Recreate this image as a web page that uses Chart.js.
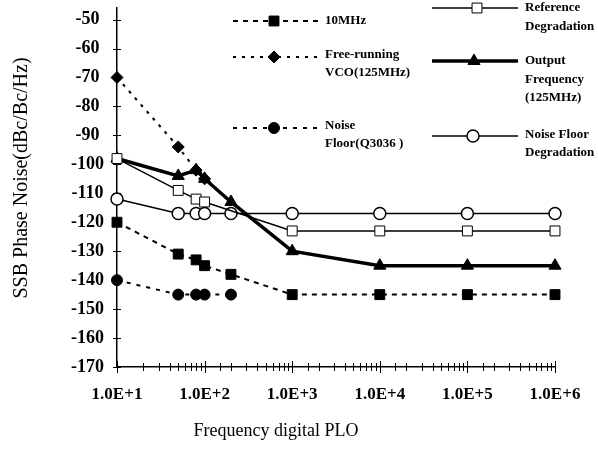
<!DOCTYPE html>
<html>
<head>
<meta charset="utf-8">
<script src="https://cdn.jsdelivr.net/npm/chart.js@4.4.1/dist/chart.umd.min.js"></script>
<style>
html, body { margin: 0; padding: 0; background: #fff; }
</style>
</head>
<body>
<canvas id="noiseChart" width="598" height="458"></canvas>
<script>
// frequency offsets (Hz)
const freqs = [10, 50, 80, 100, 200, 1000, 10000, 100000, 1000000];
const vcoFreqs = [10, 50, 80, 100];
const floorFreqs = [10, 50, 80, 100, 200];
const refFreqs = [10, 50, 80, 100, 1000, 10000, 100000, 1000000];

// phase noise values (dBc/Hz)
const tenMHz = [-120, -131, -133, -135, -138, -145, -145, -145, -145];
const vcoFree = [-70, -94, -102, -105];
const noiseFloor = [-140, -145, -145, -145, -145];
const outputFreq = [-98, -104, -102, -105, -113, -130, -135, -135, -135];
const refDegradation = [-98, -109, -112, -113, -123, -123, -123, -123];
const floorDegradation = [-112, -117, -117, -117, -117, -117, -117, -117, -117];

const xTickLabels = ['1.0E+1', '1.0E+2', '1.0E+3', '1.0E+4', '1.0E+5', '1.0E+6'];
const yTickValues = [-170, -160, -150, -140, -130, -120, -110, -100, -90, -80, -70, -60, -50];
const yTitle = 'SSB Phase Noise(dBc/Bc/Hz)';
const xTitle = 'Frequency digital PLO';

const SERIF = '"Liberation Serif", "Times New Roman", serif';

function pts(xs, ys) {
    return xs.map((x, i) => ({ x: x, y: ys[i] }));
}

// where each legend entry sits inside the plot
const legendSlots = [
    { ds: 0, x0: 233, x1: 318, mx: 274, y: 21, tx: 325, lines: ['10MHz'], ly: [21] },
    { ds: 1, x0: 233, x1: 318, mx: 274, y: 57, tx: 325, lines: ['Free-running', 'VCO(125MHz)'], ly: [55, 73] },
    { ds: 2, x0: 233, x1: 318, mx: 274, y: 128, tx: 325, lines: ['Noise', 'Floor(Q3036 )'], ly: [126, 144] },
    { ds: 3, x0: 432, x1: 518, mx: 477, y: 8, tx: 525, lines: ['Reference', 'Degradation'], ly: [8, 27] },
    { ds: 4, x0: 432, x1: 518, mx: 474, y: 61, tx: 525, lines: ['Output', 'Frequency', '(125MHz)'], ly: [61, 80, 98] },
    { ds: 5, x0: 432, x1: 518, mx: 473, y: 136, tx: 525, lines: ['Noise Floor', 'Degradation'], ly: [135, 153] }
];

const paperLegend = {
    id: 'paperLegend',
    afterDraw(chart) {
        const ctx = chart.ctx;
        legendSlots.forEach(slot => {
            const ds = chart.data.datasets[slot.ds];
            ctx.save();
            ctx.strokeStyle = ds.borderColor;
            ctx.lineWidth = ds.borderWidth;
            ctx.setLineDash(ds.borderDash || []);
            ctx.beginPath();
            ctx.moveTo(slot.x0, slot.y);
            ctx.lineTo(slot.x1, slot.y);
            ctx.stroke();
            ctx.setLineDash([]);
            ctx.fillStyle = ds.pointBackgroundColor;
            ctx.strokeStyle = ds.pointBorderColor;
            ctx.lineWidth = ds.pointBorderWidth;
            Chart.helpers.drawPoint(ctx, {
                pointStyle: ds.pointStyle,
                radius: ds.pointRadius,
                borderWidth: ds.pointBorderWidth,
                rotation: 0
            }, slot.mx, slot.y);
            ctx.fillStyle = '#000';
            ctx.font = 'bold 13px ' + SERIF;
            ctx.textAlign = 'left';
            ctx.textBaseline = 'middle';
            slot.lines.forEach((t, i) => ctx.fillText(t, slot.tx, slot.ly[i]));
            ctx.restore();
        });
    }
};

// small tick marks that cross the axes, and the two axis titles
const paperAxes = {
    id: 'paperAxes',
    afterDraw(chart) {
        const ctx = chart.ctx;
        const area = chart.chartArea;
        const xs = chart.scales.x;
        const ys = chart.scales.y;
        ctx.save();
        ctx.strokeStyle = '#000';
        ctx.lineWidth = 1;
        ctx.beginPath();
        ys.ticks.forEach(t => {
            const py = Math.round(ys.getPixelForValue(t.value)) + 0.5;
            ctx.moveTo(area.left - 4, py);
            ctx.lineTo(area.left + 4, py);
        });
        xs.ticks.forEach(t => {
            const px = Math.round(xs.getPixelForValue(t.value)) + 0.5;
            const len = t.major ? 6 : 4;
            ctx.moveTo(px, area.bottom - len);
            ctx.lineTo(px, area.bottom + len);
        });
        ctx.stroke();

        ctx.fillStyle = '#000';
        ctx.font = '18px ' + SERIF;
        ctx.textAlign = 'center';
        ctx.textBaseline = 'middle';
        ctx.fillText(xTitle, 276, 431);
        ctx.translate(22, 178);
        ctx.rotate(-Math.PI / 2);
        ctx.font = '20px ' + SERIF;
        ctx.fillText(yTitle, 0, 0);
        ctx.restore();
    }
};

document.addEventListener('DOMContentLoaded', () => {
    const datasets = [
        {
            label: '10MHz',
            data: pts(freqs, tenMHz),
            borderColor: '#000', borderWidth: 2, borderDash: [5, 5],
            pointStyle: 'rect', pointRadius: 7,
            pointBackgroundColor: '#000', pointBorderColor: '#000', pointBorderWidth: 1
        },
        {
            label: 'Free-running VCO(125MHz)',
            data: pts(vcoFreqs, vcoFree),
            borderColor: '#000', borderWidth: 2, borderDash: [3, 6],
            pointStyle: 'rectRot', pointRadius: 6,
            pointBackgroundColor: '#000', pointBorderColor: '#000', pointBorderWidth: 1
        },
        {
            label: 'Noise Floor(Q3036 )',
            data: pts(floorFreqs, noiseFloor),
            borderColor: '#000', borderWidth: 2, borderDash: [4, 6],
            pointStyle: 'circle', pointRadius: 5.5,
            pointBackgroundColor: '#000', pointBorderColor: '#000', pointBorderWidth: 1
        },
        {
            label: 'Reference Degradation',
            data: pts(refFreqs, refDegradation),
            borderColor: '#000', borderWidth: 1.5,
            pointStyle: 'rect', pointRadius: 7,
            pointBackgroundColor: '#fff', pointBorderColor: '#000', pointBorderWidth: 1
        },
        {
            label: 'Output Frequency (125MHz)',
            data: pts(freqs, outputFreq),
            borderColor: '#000', borderWidth: 3.5,
            pointStyle: 'triangle', pointRadius: 7,
            pointBackgroundColor: '#000', pointBorderColor: '#000', pointBorderWidth: 1
        },
        {
            label: 'Noise Floor Degradation',
            data: pts(freqs, floorDegradation),
            borderColor: '#000', borderWidth: 1.5,
            pointStyle: 'circle', pointRadius: 6,
            pointBackgroundColor: '#fff', pointBorderColor: '#000', pointBorderWidth: 1.5
        }
    ];
    datasets.forEach(d => { d.tension = 0; d.clip = false; d.fill = false; });

    new Chart(document.getElementById('noiseChart'), {
        type: 'line',
        data: { datasets: datasets },
        options: {
            responsive: false,
            animation: false,
            layout: { padding: { top: 0, right: 43, left: 0, bottom: 0 } },
            plugins: {
                legend: { display: false },
                tooltip: { enabled: false }
            },
            scales: {
                x: {
                    type: 'logarithmic',
                    min: 10,
                    max: 1000000,
                    grid: { display: true, drawOnChartArea: false, drawTicks: false, color: 'rgba(0,0,0,0)' },
                    border: { display: true, color: '#000', width: 1.5 },
                    ticks: {
                        autoSkip: false,
                        maxRotation: 0,
                        padding: 17,
                        color: '#000',
                        font: { family: SERIF, size: 17, weight: 'bold' },
                        callback: function (value) {
                            const e = Math.log10(value);
                            if (Math.abs(e - Math.round(e)) > 1e-9) return '';
                            return xTickLabels[Math.round(e) - 1];
                        }
                    },
                    afterFit: function (scale) { scale.height = 91; }
                },
                y: {
                    min: -170,
                    max: -46,
                    grid: { display: true, drawOnChartArea: false, drawTicks: false, color: 'rgba(0,0,0,0)' },
                    border: { display: true, color: '#000', width: 1.5 },
                    ticks: {
                        crossAlign: 'center',
                        padding: 13,
                        color: '#000',
                        font: { family: SERIF, size: 18, weight: 'bold' }
                    },
                    afterBuildTicks: function (scale) {
                        scale.ticks = yTickValues.map(v => ({ value: v }));
                    },
                    afterFit: function (scale) {
                        scale.width = 117;
                        scale.paddingTop = 5;
                    }
                }
            }
        },
        plugins: [paperAxes, paperLegend]
    });
});
</script>
</body>
</html>
